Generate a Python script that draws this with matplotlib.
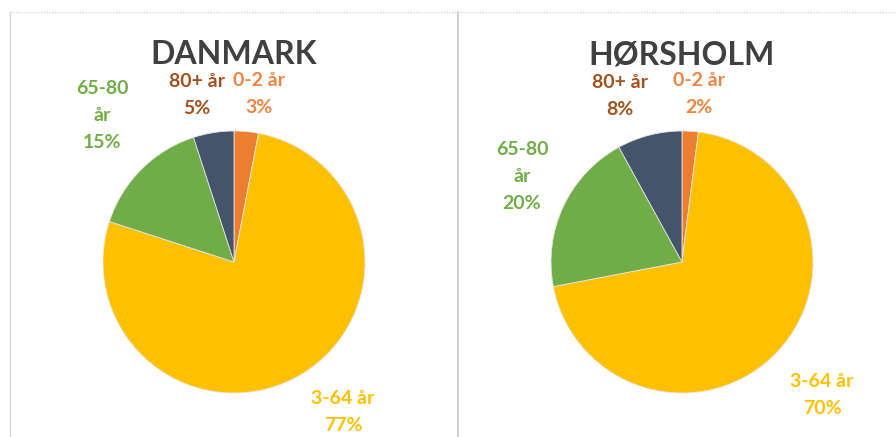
import numpy as np
import matplotlib
matplotlib.use("Agg")
import matplotlib.pyplot as plt
from matplotlib.lines import Line2D

# ---- data ----
categories = ["0-2 år", "3-64 år", "65-80\når", "80+ år"]
titles = ["DANMARK", "HØRSHOLM"]
danmark = [3, 77, 15, 5]
horsholm = [2, 70, 20, 8]
pct_labels_dk = ["3%", "77%", "15%", "5%"]
pct_labels_hh = ["2%", "70%", "20%", "8%"]

# ---- style ----
slice_colors = ["#ED7D31", "#FFC000", "#70AD47", "#44546A"]
label_colors = ["#EF8442", "#FFC000", "#70AD47", "#A3511D"]
title_color = "#404040"
FONT = ["Lato", "DejaVu Sans"]
# label distance (in radii) and angle adjustment (deg) per panel
label_dist = [[1.296, 1.415, 1.505, 1.306], [1.289, 1.474, 1.385, 1.353]]
label_dang = [[-2.9, 5.4, -3.0, 3.5], [-2.2, -0.3, -2.9, 6.1]]

W, H = 896, 437
fig = plt.figure(figsize=(W / 100, H / 100), dpi=100)
fig.patch.set_facecolor("white")

# panel borders
fig.add_artist(Line2D([10 / W, 10 / W], [0, 1 - 12 / H], color="#D9D9D9", lw=1))
fig.add_artist(Line2D([10 / W, 1], [1 - 12 / H, 1 - 12 / H], color="#D9D9D9", lw=1, ls=(0, (1, 1))))
fig.add_artist(Line2D([457.5 / W, 457.5 / W], [0, 1 - 12 / H], color="#C8C8C8", lw=1.2))

R = 131.0
LIM = 1.75
centers = [(234, 262), (682, 262)]
datasets = [danmark, horsholm]
pcts = [pct_labels_dk, pct_labels_hh]

for i in range(2):
    cx, cy = centers[i]
    half = LIM * R
    ax = fig.add_axes([(cx - half) / W, (H - cy - half) / H, 2 * half / W, 2 * half / H])
    ax.patch.set_alpha(0)
    wedges, _ = ax.pie(datasets[i], colors=slice_colors, startangle=90, counterclock=False,
                       radius=1.0, wedgeprops=dict(linewidth=0.6, edgecolor="#E4E4E4"))
    ax.set_xlim(-LIM, LIM)
    ax.set_ylim(-LIM, LIM)
    ax.set_aspect("equal")
    ax.axis("off")
    for j, w in enumerate(wedges):
        mid = np.deg2rad((w.theta1 + w.theta2) / 2 + label_dang[i][j])
        d = label_dist[i][j]
        ax.text(d * np.cos(mid), d * np.sin(mid), categories[j] + "\n" + pcts[i][j],
                ha="center", va="center", color=label_colors[j], fontsize=14,
                fontweight="bold", family=FONT, linespacing=1.72)
    ax.text(0, (cy - 55) / R, titles[i], ha="center", va="center", color=title_color,
            fontsize=23, fontweight="bold", family=FONT)

fig.savefig("out.png", dpi=100, facecolor="white")
